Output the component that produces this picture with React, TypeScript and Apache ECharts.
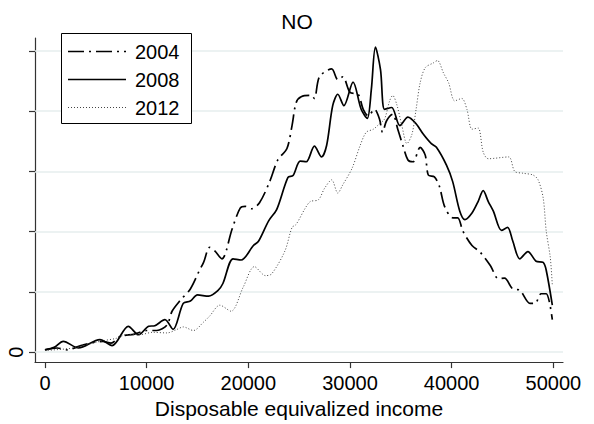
import React, { useEffect, useRef } from "react";
import * as echarts from "echarts";

const years = ["2004", "2008", "2012"];
const xTicks = [0, 10000, 20000, 30000, 40000, 50000];
const yTicks = [0, 1, 2, 3, 4, 5];
const yLabels = [0];

const inc2004 = [0, 1200, 2200, 3700, 5700, 6500, 7400, 8800, 10000, 11000, 12000, 12500, 13300, 14300, 15200, 15600, 16200, 16700, 17400, 18400, 19200, 19700, 20300, 21100, 22100, 22900, 23800, 24300, 24700, 25200, 26200, 26500, 27000, 28200, 28800, 29300, 30000, 30800, 31300, 31800, 32400, 32900, 33200, 33600, 34200, 34700, 35200, 35700, 36200, 36900, 37400, 37700, 38300, 38800, 39300, 40100, 40600, 41100, 42000, 42800, 43800, 44600, 45200, 46000, 46700, 47700, 48200, 48800, 49300, 49900];
const dens2004 = [0.04, 0.07, 0.04, 0.12, 0.18, 0.15, 0.26, 0.30, 0.36, 0.36, 0.45, 0.68, 0.86, 1.05, 1.36, 1.49, 1.74, 1.68, 1.55, 2.04, 2.39, 2.42, 2.38, 2.48, 2.83, 3.19, 3.38, 3.76, 4.14, 4.24, 4.26, 4.21, 4.57, 4.70, 4.52, 4.57, 4.31, 4.28, 4.03, 3.92, 4.03, 3.87, 3.65, 3.84, 3.95, 3.70, 3.43, 3.19, 3.16, 3.40, 3.27, 2.94, 2.91, 2.75, 2.42, 2.23, 2.23, 2.01, 1.77, 1.66, 1.44, 1.22, 1.23, 1.05, 1.03, 0.81, 0.81, 0.97, 0.97, 0.54];

const inc2008 = [0, 900, 1800, 3300, 5400, 6600, 8200, 9200, 10200, 10800, 11800, 12600, 13600, 14300, 15000, 16100, 17000, 17500, 18500, 19300, 20500, 21000, 22000, 22800, 23900, 24400, 25100, 25700, 26500, 27200, 27700, 28300, 28800, 29400, 30300, 31100, 31700, 32100, 32500, 33000, 33400, 34100, 34900, 35700, 36500, 37200, 38000, 38500, 39500, 40100, 40800, 41300, 42000, 42600, 43100, 43600, 44100, 44900, 45500, 46000, 46700, 47500, 48300, 49000, 49300, 49900];
const dens2008 = [0.04, 0.08, 0.18, 0.07, 0.21, 0.11, 0.43, 0.29, 0.43, 0.44, 0.54, 0.38, 0.81, 0.85, 0.95, 0.93, 1.02, 1.14, 1.55, 1.53, 1.77, 1.84, 2.18, 2.37, 2.90, 2.93, 3.17, 3.16, 3.42, 3.24, 3.43, 4.09, 4.28, 4.09, 4.48, 4.03, 3.88, 4.36, 5.06, 4.69, 4.03, 4.06, 3.76, 3.90, 3.79, 3.62, 3.46, 3.40, 3.10, 2.83, 2.34, 2.20, 2.31, 2.50, 2.68, 2.50, 2.34, 2.02, 2.07, 1.85, 1.55, 1.67, 1.51, 1.49, 1.36, 0.78];

const inc2012 = [0, 2800, 5400, 7000, 8000, 9300, 10600, 12000, 13000, 13600, 14600, 15600, 16200, 17200, 18300, 19500, 20600, 21700, 22300, 23600, 24300, 24700, 25600, 26100, 26900, 27500, 28200, 28800, 29300, 30200, 31000, 31600, 32300, 32900, 33400, 33900, 34200, 34600, 35100, 35600, 36100, 36500, 36900, 37400, 38200, 38600, 39200, 39700, 40300, 41000, 41500, 42000, 42600, 43100, 43600, 45600, 46200, 47000, 48000, 48500, 49000, 49300, 49700, 49900];
const dens2012 = [0.03, 0.07, 0.18, 0.23, 0.29, 0.29, 0.33, 0.32, 0.38, 0.42, 0.36, 0.50, 0.60, 0.78, 0.68, 1.08, 1.42, 1.27, 1.30, 1.68, 2.07, 2.12, 2.39, 2.50, 2.53, 2.72, 2.86, 2.64, 2.78, 3.05, 3.43, 3.65, 3.70, 3.79, 3.87, 4.17, 4.26, 4.11, 3.76, 3.46, 3.62, 4.03, 4.47, 4.72, 4.80, 4.84, 4.63, 4.47, 4.17, 4.21, 4.03, 3.70, 3.72, 3.32, 3.21, 3.24, 3.00, 2.97, 2.94, 2.86, 2.56, 2.01, 1.57, 1.11];

const FONT = "'Liberation Sans', Arial, Helvetica, sans-serif";

const styles: Record<string, { color: string; width: number; dash: number[] | null }> = {
  "2004": { color: "#000", width: 1.7, dash: [16, 5, 2, 5] },
  "2008": { color: "#000", width: 1.7, dash: null },
  "2012": { color: "#444", width: 1, dash: [1, 2] },
};

const pairs = (xs: number[], ys: number[]) => xs.map((x, i) => [x, ys[i]]);

export default function App() {
  const ref = useRef<HTMLDivElement>(null);
  useEffect(() => {
    if (!ref.current) return;
    const chart = echarts.init(ref.current, null, { renderer: "svg" });
    const mkLine = (name: string, xs: number[], ys: number[]) => {
      const s = styles[name];
      return {
        type: "line",
        name,
        showSymbol: false,
        symbol: "none",
        smooth: 0.3,
        z: 3,
        data: pairs(xs, ys),
        lineStyle: { color: s.color, width: s.width, type: s.dash ? s.dash : "solid" },
        itemStyle: { color: s.color },
      };
    };
    const legendRowY = [51.5, 79.5, 107.5];
    const legendChildren: any[] = [
      {
        type: "rect",
        z: 100,
        shape: { x: 61.5, y: 33.5, width: 130, height: 90 },
        style: { fill: "#fff", stroke: "#000", lineWidth: 1 },
      },
    ];
    years.forEach((y, i) => {
      const s = styles[y];
      legendChildren.push({
        type: "line",
        z: 101,
        shape: { x1: 68, y1: legendRowY[i], x2: 126, y2: legendRowY[i] },
        style: { stroke: s.color, lineWidth: s.width, lineDash: s.dash || undefined },
      });
      legendChildren.push({
        type: "text",
        z: 101,
        x: 135,
        y: legendRowY[i],
        style: {
          text: y,
          fill: "#000",
          font: `20px ${FONT}`,
          verticalAlign: "middle",
        },
      });
    });
    chart.setOption({
      animation: false,
      backgroundColor: "#ffffff",
      textStyle: { fontFamily: FONT },
      title: {
        text: "NO",
        left: "center",
        top: 11,
        padding: 0,
        textStyle: { fontFamily: FONT, fontSize: 21, fontWeight: "normal", color: "#000" },
      },
      grid: { left: 35, right: 31, top: 38, bottom: 58, containLabel: false },
      graphic: legendChildren,
      xAxis: {
        type: "value",
        min: -980,
        max: 50950,
        name: "Disposable equivalized income",
        nameLocation: "middle",
        nameGap: 27,
        nameTextStyle: { fontFamily: FONT, fontSize: 21, color: "#000" },
        axisLine: { show: true, onZero: false, lineStyle: { color: "#333", width: 1.2 } },
        axisTick: { show: true, length: 6, customValues: xTicks, lineStyle: { color: "#333", width: 1.2 } },
        axisLabel: {
          customValues: xTicks,
          margin: 11,
          fontFamily: FONT,
          fontSize: 20,
          color: "#000",
          formatter: (v: number) => String(v),
        },
        splitLine: { show: false },
      },
      yAxis: {
        type: "value",
        min: -0.164,
        max: 5.213,
        axisLine: { show: true, onZero: false, lineStyle: { color: "#333", width: 1.2 } },
        axisTick: { show: true, length: 6, customValues: yTicks, lineStyle: { color: "#333", width: 1.2 } },
        axisLabel: {
          customValues: yLabels,
          rotate: 90,
          margin: 9,
          fontFamily: FONT,
          fontSize: 20,
          color: "#000",
          formatter: (v: number) => String(v),
        },
        splitLine: { show: false },
      },
      series: [
        {
          name: "grid",
          type: "line",
          data: [],
          z: 1,
          zlevel: 0,
          silent: true,
          markLine: {
            silent: true,
            z: 1,
            symbol: "none",
            label: { show: false },
            lineStyle: { color: "#e6eeee", width: 1.5, type: "solid" },
            data: yTicks.map((v) => ({ yAxis: v })),
          },
        },
        mkLine("2004", inc2004, dens2004),
        mkLine("2008", inc2008, dens2008),
        mkLine("2012", inc2012, dens2012),
      ],
    });
    return () => chart.dispose();
  }, []);
  return (
    <div
      ref={ref}
      style={{ position: "fixed", left: 0, top: 0, width: 594, height: 424, background: "#fff" }}
    />
  );
}
